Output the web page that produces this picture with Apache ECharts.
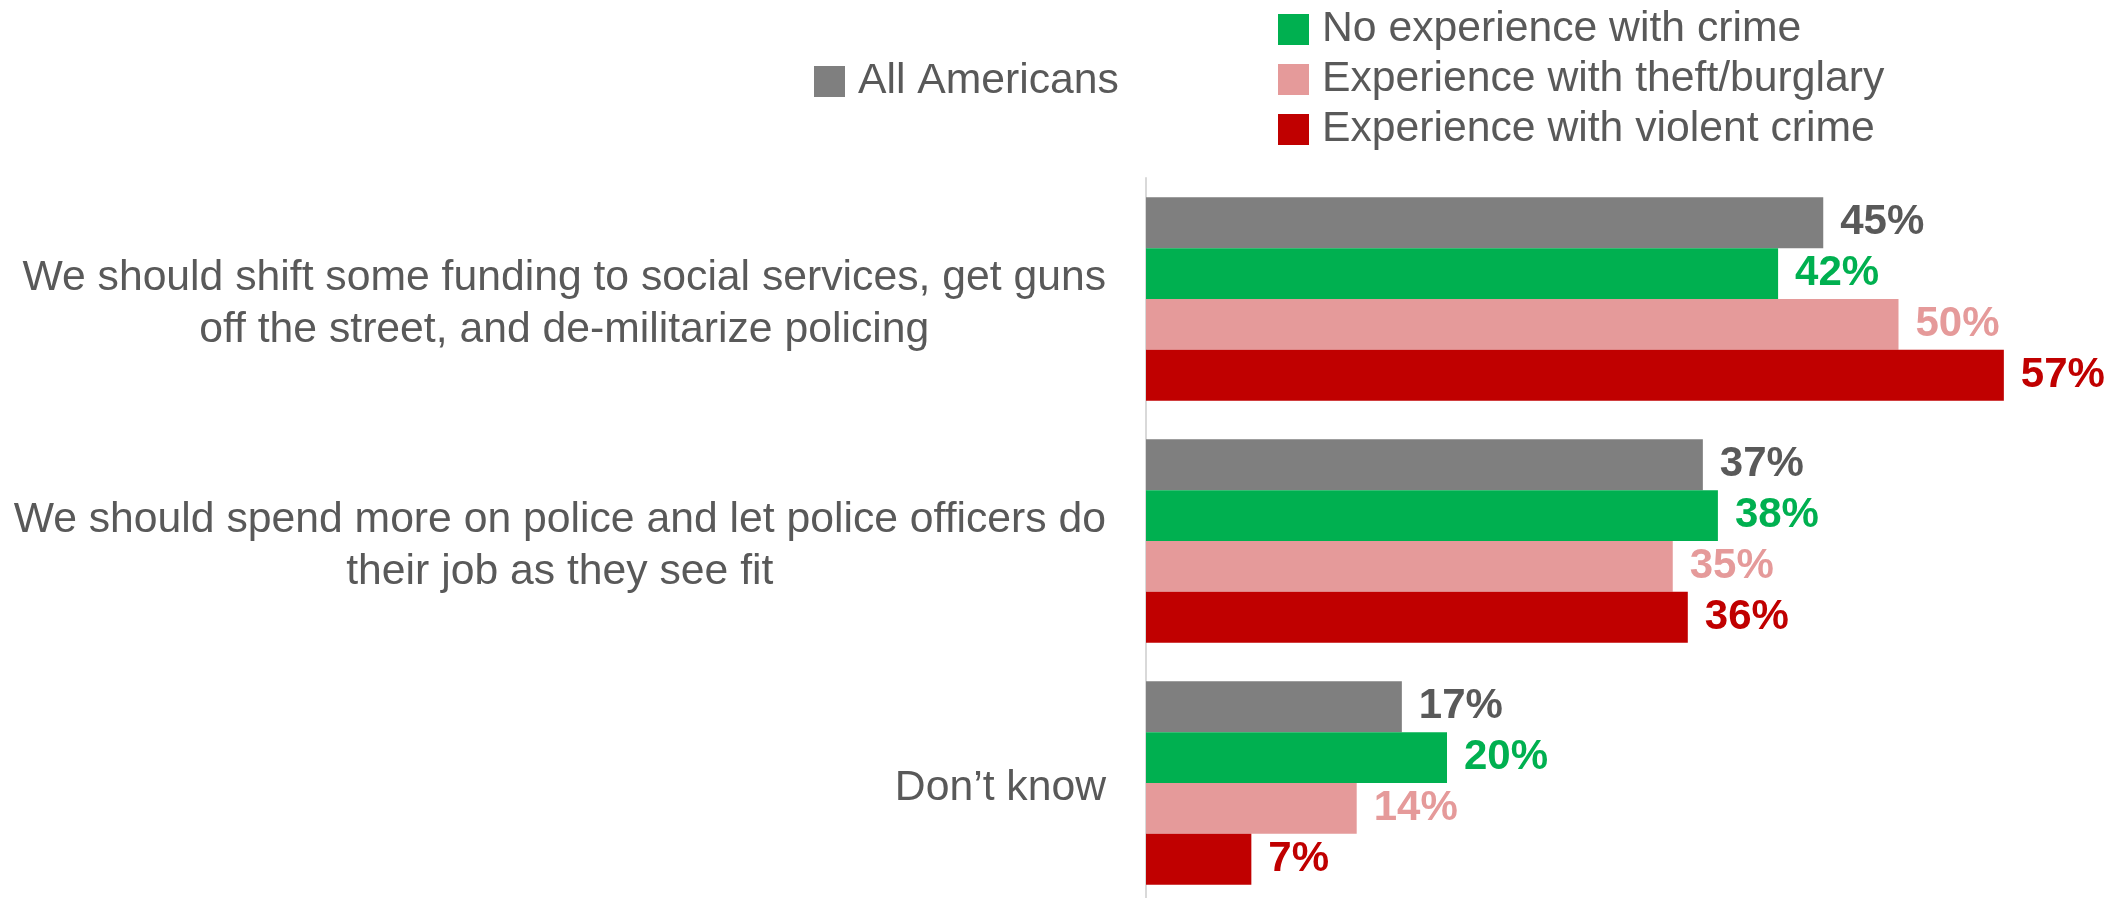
<!DOCTYPE html>
<html>
<head>
<meta charset="utf-8">
<script src="https://cdn.jsdelivr.net/npm/echarts@6/dist/echarts.min.js"></script>
<style>
  html, body { margin: 0; padding: 0; background: #ffffff; }
  #chart { width: 2123px; height: 898px; }
</style>
</head>
<body>
<div id="chart"></div>
<script>
// Survey answers (top to bottom) and the share choosing each, by group
const categories = [
  'We should shift some funding to social services, get guns\noff the street, and de-militarize policing',
  'We should spend more on police and let police officers do\ntheir job as they see fit',
  'Don\u2019t know'
];
const seriesNames = [
  'All Americans',
  'No experience with crime',
  'Experience with theft/burglary',
  'Experience with violent crime'
];
const allAmericans = [45, 37, 17];
const noExperience = [42, 38, 20];
const theftBurglary = [50, 35, 14];
const violentCrime = [57, 36, 7];

const seriesValues = [allAmericans, noExperience, theftBurglary, violentCrime];
const barColors = ['#7f7f7f', '#00b050', '#e59a9a', '#c00000'];
const labelColors = ['#595959', '#00b050', '#e59a9a', '#c00000'];

const FONT = '"Liberation Sans", Arial, Helvetica, sans-serif';
const TEXT = '#595959';

const chart = echarts.init(document.getElementById('chart'), null, { renderer: 'canvas' });

const series = seriesNames.map((name, i) => ({
  name: name,
  type: 'bar',
  data: seriesValues[i],
  barGap: '0%',
  barCategoryGap: '16%',
  itemStyle: { color: barColors[i] },
  label: {
    show: true,
    position: 'right',
    distance: 17,
    formatter: '{c}%',
    color: labelColors[i],
    fontFamily: FONT,
    fontWeight: 'bold',
    fontSize: 42
  },
  emphasis: { disabled: true }
}));

const legendText = {
  color: TEXT,
  fontFamily: FONT,
  fontSize: 42.7,
  lineHeight: 42,
  padding: [0, 0, 0, 8]
};

chart.setOption({
  animation: false,
  backgroundColor: '#ffffff',
  legend: [
    {
      data: [seriesNames[0]],
      left: 814,
      top: 60,
      padding: 0,
      icon: 'rect',
      itemWidth: 31,
      itemHeight: 31,
      selectedMode: false,
      textStyle: legendText
    },
    {
      data: seriesNames.slice(1),
      orient: 'vertical',
      left: 1278,
      top: 8,
      padding: 0,
      itemGap: 7,
      icon: 'rect',
      itemWidth: 31,
      itemHeight: 31,
      selectedMode: false,
      textStyle: legendText
    }
  ],
  grid: {
    left: 1146,
    top: 178,
    width: 903,
    height: 726,
    containLabel: false,
    outerBoundsMode: 'none'
  },
  xAxis: {
    type: 'value',
    min: 0,
    max: 60,
    show: false,
    splitLine: { show: false }
  },
  yAxis: {
    type: 'category',
    data: categories,
    inverse: true,
    axisTick: { show: false },
    axisLine: { show: true, lineStyle: { color: '#d9d9d9', width: 2 } },
    axisLabel: {
      align: 'right',
      margin: 40,
      padding: [10, 0, 0, 0],
      color: TEXT,
      fontFamily: FONT,
      fontSize: 42.7,
      lineHeight: 52,
      formatter: function (value) {
        return value.split('\n').map(function (line) { return '{c|' + line + '}'; }).join('\n');
      },
      rich: {
        c: {
          align: 'center',
          color: TEXT,
          fontFamily: FONT,
          fontSize: 42.7,
          lineHeight: 52
        }
      }
    }
  },
  series: series
});
</script>
</body>
</html>
